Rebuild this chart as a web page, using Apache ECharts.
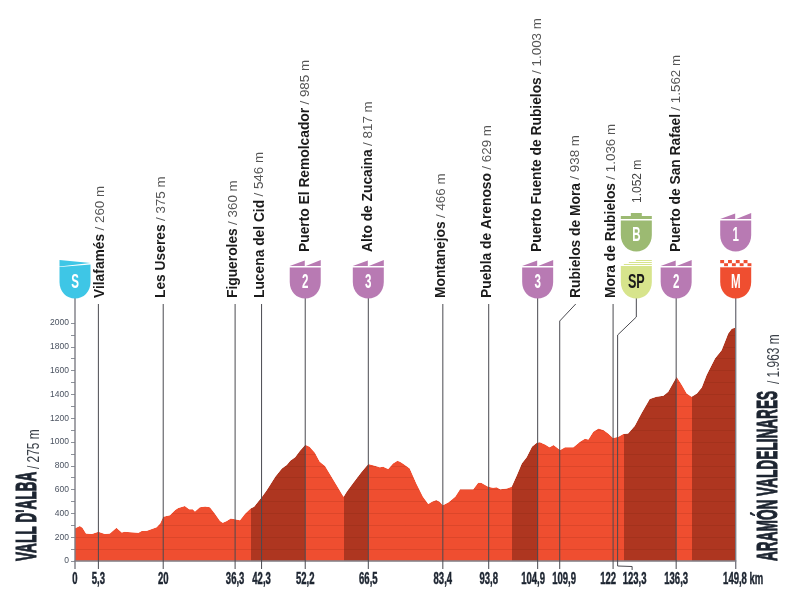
<!DOCTYPE html>
<html><head><meta charset="utf-8">
<style>html,body{margin:0;padding:0;background:#fff}#c{width:800px;height:610px}</style>
<script src="https://cdn.jsdelivr.net/npm/echarts@6/dist/echarts.min.js"></script>
</head><body><div id="c"></div>
<script>
const profileKm=[0,1.1,1.7,2.5,3.8,5.3,6.8,7.9,9.4,10.6,11.2,14.4,15.1,16.3,16.6,18.5,19.3,20,21.5,22.7,23.4,24.9,25.9,26.7,27.2,28.3,29.5,30.6,31.7,32.9,33.5,34.4,35.3,36.3,37.4,38.5,39.8,40.6,42.4,43.5,45.4,46.9,48,48.8,49.9,51,52.2,53.2,54.4,55.5,56.7,57.8,59.3,60.9,61.6,63.1,65,66.5,68,69.1,69.9,71,72.1,73.1,73.7,74.5,75.9,77.4,78.9,80.1,80.9,81.9,82.7,83.4,84.7,86.2,87.3,90.3,91.4,92.1,93.7,94.8,95.6,96.4,97.9,99,100.2,101.3,102.4,103.6,104.7,105.4,106.6,107.6,108.5,110,111.1,113,114.5,115.6,116.4,117.5,118.7,119.8,120.9,122,123.2,124.3,125.4,126.9,128.4,130.3,131.8,133.4,134.5,136.4,137.6,138.7,139.8,141,142.1,143.2,145.1,146.6,148.1,148.9,149.8];
const profileEle=[275,294,280,232,227,246,227,232,280,240,246,238,252,255,266,283,316,372,384,428,445,462,434,434,417,451,459,451,400,336,322,336,358,350,342,395,442,456,540,596,708,778,806,843,871,927,977,960,910,834,798,731,638,540,582,658,750,815,800,787,792,773,820,843,834,815,778,652,540,479,498,512,498,468,493,540,602,602,658,658,624,616,619,602,610,624,722,820,871,960,994,997,980,955,974,932,955,955,1002,1028,1022,1086,1114,1100,1072,1033,1044,1067,1072,1134,1240,1361,1380,1389,1422,1548,1478,1408,1380,1408,1459,1562,1702,1772,1912,1952,1963];
const climbStart=[39.8,60.9,99,124.4,139.9];
const climbEnd=[52.2,66.5,104.9,136.3,149.8];
const kmTicks=[0,5.3,20,36.3,42.3,52.2,66.5,83.4,93.8,104.9,109.9,122,123.3,136.3,149.8];
const yTickLabels=[0,200,400,600,800,1000,1200,1400,1600,1800,2000];
const yTicks=[0,100,200,300,400,500,600,700,800,900,1000,1100,1200,1300,1400,1500,1600,1700,1800,1900,2000];
const placeNames=['Vilafamés','Les Useres','Figueroles','Lucena del Cid','Puerto El Remolcador','Alto de Zucaina','Montanejos','Puebla de Arenoso','Puerto Fuente de Rubielos','Rubielos de Mora','Mora de Rubielos','','Puerto de San Rafael'];
const placeHeights=['260 m','375 m','360 m','546 m','985 m','817 m','466 m','629 m','1.003 m','938 m','1.036 m','1.052 m','1.562 m'];
const placeKm=[5.3,20,36.3,42.3,52.2,66.5,83.4,93.8,104.9,109.9,122,123.3,136.3];
const placeBadges=['','','','','2','3','','','3','','','SP','2'];
const startName="VALL D'ALBA", startHeight='/ 275 m';
const finishName='ARAMÓN VALDELINARES', finishHeight='/ 1.963 m';

const BRIGHT='#ef4e30',DARK='#ae3620',PURPLE='#b87ab3',INK='#1c2430',SANS='"Liberation Sans",sans-serif';
const GROUND=561,LOWROW=260,HIGHROW=213;
const profile=profileKm.map((k,i)=>[k,profileEle[i]]);
const pieces=[];let prev=0;
climbStart.forEach((s,i)=>{pieces.push({gte:prev,lt:s,color:BRIGHT});pieces.push({gte:s,lt:climbEnd[i],color:DARK});prev=climbEnd[i];});
pieces.push({gte:149.8,color:DARK});

function shield(x,y,w,fill,top){
  return {type:'path',x:x,y:y,shape:{pathData:'M0 '+top+' L31 '+top+' L31 22 C31 32 24 38.5 15.5 38.5 C7 38.5 0 32 0 22 Z'},style:{fill:fill}};
}
function rect(x,y,w,h,fill){return {type:'rect',shape:{x:x,y:y,width:w,height:h},style:{fill:fill}};}
function poly(pts,fill){return {type:'polygon',shape:{points:pts},style:{fill:fill}};}
function badge(kind,cx,y){
  const x=cx-15.5,out=[];
  let fill=PURPLE,ink='#fff',label=kind;
  if(kind==='S'){fill='#3ec6e6';
    out.push(poly([[x,y],[x+31,y+3],[x,y+6.5]],fill));
    out.push({type:'path',x:x,y:y,shape:{pathData:'M0 7 L31 4.5 L31 22 C31 32 24 38.5 15.5 38.5 C7 38.5 0 32 0 22 Z'},style:{fill:fill}});
  }else if(kind==='B'){fill='#9cba72';
    out.push(rect(x+10,y,11,3.5,fill),rect(x,y+3,31,3,fill),shield(x,y,31,fill,7.5));
  }else if(kind==='SP'){fill='#d7e48c';ink='#1a1a1a';
    out.push(rect(x+15,y,16,1,fill),rect(x+8,y+2,23,1,fill),rect(x+3,y+4,28,1,fill),shield(x,y,31,fill,6));
  }else if(kind==='M'){fill=BRIGHT;
    out.push(shield(x,y,31,fill,7));
    for(let r=0;r<2;r++)for(let c=0;c<8;c++){ if((r+c)%2===0) out.push(rect(x+c*3.9,y+r*3.2,3.9,3.2,fill)); }
    out.push(rect(x,y+6.4,31,.9,'#fff'));
  }else{
    out.push(poly([[x,y+6],[x+15,y+.5],[x+15,y+6]],fill),poly([[x+16,y+6],[x+31,y],[x+31,y+6]],fill),shield(x,y,31,fill,7.5));
  }
  out.push({type:'text',x:cx,y:y+22,scaleX:kind==='SP'?.6:.55,style:{text:label,fill:ink,font:'bold 21px '+SANS,align:'center',verticalAlign:'middle'}});
  return out;
}
function seg(pts,w,c){return {type:'polyline',shape:{points:pts},style:{fill:null,stroke:c||'#4a4a50',lineWidth:w||1}};}

const xLabelShift={104.9:-4.6,109.9:4.4,122:-5,123.3:15.8,149.8:7.5};

const option={
  animation:false,
  grid:{left:75,right:64.3,top:299.2,bottom:49,containLabel:false},
  xAxis:{type:'value',min:0,max:149.8,z:6,axisLabel:{show:false},axisTick:{show:false},splitLine:{show:false},
    axisLine:{show:true,onZero:false,lineStyle:{color:'#85858c',width:1.5}}},
  yAxis:{type:'value',min:0,max:2200,interval:100,z:3,
    axisLine:{show:false},
    axisTick:{show:true,length:4,customValues:yTicks,lineStyle:{color:'#6f7580',width:.8}},
    axisLabel:{show:true,customValues:yTickLabels,formatter:v=>String(v),margin:6,fontSize:8.5,color:'#4a5260',fontFamily:SANS},
    splitLine:{show:true,showMaxLine:false,lineStyle:{color:'rgba(90,20,8,0.13)',width:1}}},
  visualMap:{show:false,type:'piecewise',seriesIndex:0,dimension:0,pieces:pieces},
  series:[
    {type:'line',z:2,data:profile,showSymbol:false,silent:true,lineStyle:{width:0},areaStyle:{opacity:1}},
    {type:'line',z:4,data:profile,showSymbol:false,silent:true,lineStyle:{width:0},itemStyle:{color:'#fff'},areaStyle:{origin:'end',color:'#fff',opacity:1}},
    {type:'custom',z:7,silent:true,clip:false,coordinateSystem:'cartesian2d',encode:{x:0,y:1},
      data:placeKm.map((k,i)=>[k,0,i]),
      renderItem(params,api){
        const i=api.value(2),p=api.coord([api.value(0),0]),x=p[0],name=placeNames[i],h=placeHeights[i],b=placeBadges[i],ch=[];
        const bottom=GROUND+8;
        if(name==='Rubielos de Mora'){
          ch.push(seg([[x,bottom],[x,321],[x+16,304]]));
        }else if(b==='SP'){
          const bx=x+17.5,lx=x-1.2;
          ch.push(seg([[lx+14.5,GROUND+9],[lx+14.5,GROUND+5.5],[lx,GROUND+5],[lx,335],[bx,317],[bx,298]]));
          ch.push(...badge('SP',bx,LOWROW),...badge('B',bx,HIGHROW));
          ch.push({type:'text',x:bx+1,y:HIGHROW-10,rotation:Math.PI/2,style:{text:h,fill:'#444',font:'12px '+SANS,align:'left',verticalAlign:'middle'}});
        }else{
          ch.push(seg([[x,bottom],[x,b?298:304]]));
        }
        if(b&&b!=='SP') ch.push(...badge(b,x,LOWROW));
        if(name){
          const row=b?252:298;
          const tx=name==='Vilafamés'?x+1.5:(name==='Rubielos de Mora'?x+16:(b?x:x-1.8));
          ch.push({type:'text',x:tx,y:row,rotation:Math.PI/2,style:{
            text:'{n|'+name+'} {h|/ '+h+'}',align:'left',verticalAlign:'middle',
            rich:{n:{font:'bold 13.8px '+SANS,fill:'#1b1b1b'},
                  h:{font:'13.4px '+SANS,fill:'#555'}}}});
        }
        return {type:'group',children:ch};
      }},
    {type:'custom',z:7,silent:true,clip:false,coordinateSystem:'cartesian2d',encode:{x:0,y:1},
      data:kmTicks.map(k=>[k,0]),
      renderItem(params,api){
        const k=api.value(0),p=api.coord([k,0]);
        let t=String(k).replace('.',',');
        if(k===149.8) t+=' km';
        return {type:'text',x:p[0]+(xLabelShift[k]||0),y:579,scaleX:.56,style:{text:t,fill:INK,stroke:INK,lineWidth:.5,font:'bold 17px '+SANS,align:'center',verticalAlign:'middle'}};
      }},
    {type:'custom',z:7,silent:true,clip:false,coordinateSystem:'cartesian2d',encode:{x:0,y:1},
      data:[[0,0,0],[149.8,0,1]],
      renderItem(params,api){
        const p=api.coord([api.value(0),0]),x=p[0],ch=[];
        const isStart=api.value(2)===0;
        ch.push(seg([[x,GROUND+8],[x,298]],1.4,'#7c7c84'));
        ch.push(...badge(isStart?'S':'M',x,LOWROW));
        if(!isStart) ch.push(...badge('1',x,HIGHROW));
        const bx=isStart?42.5:783,name=isStart?startName:finishName,sub=isStart?startHeight:finishHeight;
        const nameLen=isStart?88:173;
        ch.push({type:'text',x:bx,y:GROUND,rotation:Math.PI/2,scaleX:.47,style:{text:name,fill:INK,stroke:INK,lineWidth:1.1,font:'bold 29px '+SANS,align:'left',verticalAlign:'bottom'}});
        ch.push({type:'text',x:bx,y:GROUND-nameLen-4,rotation:Math.PI/2,scaleX:.7,style:{text:sub,fill:'#3a4048',font:'17px '+SANS,align:'left',verticalAlign:'bottom'}});
        return {type:'group',children:ch};
      }}
  ]
};
echarts.init(document.getElementById('c'),null,{renderer:'canvas'}).setOption(option);
</script></body></html>
